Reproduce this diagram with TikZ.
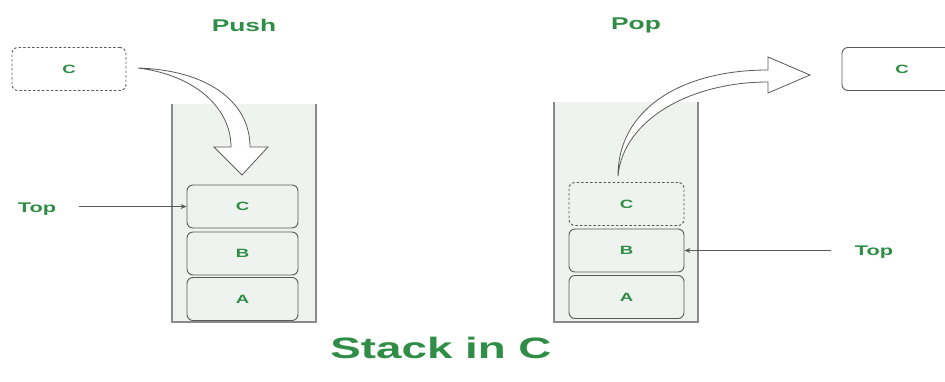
\documentclass[tikz,border=0pt]{standalone}
\usepackage{fontspec}
\setmainfont{Liberation Sans}
\newfontfamily\widesans{Liberation Sans}[FakeStretch=1.55]
\usetikzlibrary{arrows.meta,calc}
\definecolor{gfgreen}{HTML}{2F8D46}
\definecolor{stackfill}{HTML}{EEF3EF}
\definecolor{wallgray}{HTML}{8A8A8A}
\definecolor{edgegray}{HTML}{5A5A5A}
\tikzset{
  lbl/.style={text=gfgreen, font=\widesans\bfseries},
  item/.style={draw=edgegray, line width=0.9pt, fill=stackfill, rounded corners=6pt,
    minimum width=#1, minimum height=43pt, inner sep=0pt, lbl, font=\widesans\bfseries\fontsize{12}{12}\selectfont},
  ghost/.style={item=#1, dashed, dash pattern=on 2.5pt off 2pt},
  wall/.style={draw=wallgray, line width=2pt},
  pointer/.style={draw=edgegray, line width=0.8pt, -{Stealth[length=6pt,width=5pt]}},
  hollow/.style={draw=edgegray, line width=0.8pt, fill=white, line join=miter},
}
\begin{document}
\begin{tikzpicture}[x=1pt,y=-1pt]
\useasboundingbox (0,0) rectangle (945,381);
\clip (0,0) rectangle (945,381);
\fill[white] (0,0) rectangle (945,381);

% titles
\node[lbl, font=\widesans\bfseries\fontsize{17}{17}\selectfont] (pushT) at (244,25) {Push};
\node[lbl, font=\widesans\bfseries\fontsize{17}{17}\selectfont] (popT) at (636,25) {Pop};
\node[lbl, font=\widesans\bfseries\fontsize{29.5}{29.5}\selectfont] (caption) at (441,348) {Stack in C};

% push stack container
\fill[stackfill] (172,104) rectangle (316,322);
\draw[wall] (172,104) -- (172,322) -- (316,322) -- (316,104);

% pop stack container
\fill[stackfill] (554,102) rectangle (698,322);
\draw[wall] (554,102) -- (554,322) -- (698,322) -- (698,102);

% push side items
\node[ghost=114pt, fill=white] (newC) at (69,69) {C};
\node[item=111pt] (pC) at (242.5,206.5) {C};
\node[item=111pt] (pB) at (242.5,253.5) {B};
\node[item=111pt] (pA) at (242.5,299) {A};

% pop side items
\node[ghost=115pt] (qC) at (626.5,204) {C};
\node[item=115pt] (qB) at (626.5,250.5) {B};
\node[item=115pt] (qA) at (626.5,297) {A};
\node[item=120pt, fill=white] (outC) at (902,69) {C};

% top pointers
\node[lbl, font=\widesans\bfseries\fontsize{14}{14}\selectfont] (pushTop) at (37,209) {Top};
\node[lbl, font=\widesans\bfseries\fontsize{14}{14}\selectfont] (popTop) at (874,252) {Top};
\coordinate (ps) at ($(pushTop.east)+(19,0)$);
\coordinate (qs) at ($(popTop.west)+(-20,0)$);
\draw[pointer] (ps |- pC.west) -- (pC.west);
\draw[pointer] (qs |- qB.east) -- (qB.east);

% hollow arrow: push into the stack
\coordinate (pushStart) at (138,68);
\path[hollow] (pushStart) .. controls (205,70) and (250,100) .. (250,147)
  -- (268,147) -- (242,175) -- (214,147) -- (231,147)
  .. controls (231,108) and (195,75) .. (pushStart) -- cycle;

% hollow arrow: pop out of the stack
\coordinate (popStart) at (618,176);
\path[hollow] (popStart) .. controls (618,110) and (680,70) .. (768,70)
  -- (768,57) -- (810,75) -- (768,93) -- (768,82)
  .. controls (690,82) and (623,120) .. (popStart) -- cycle;
\end{tikzpicture}
\end{document}
